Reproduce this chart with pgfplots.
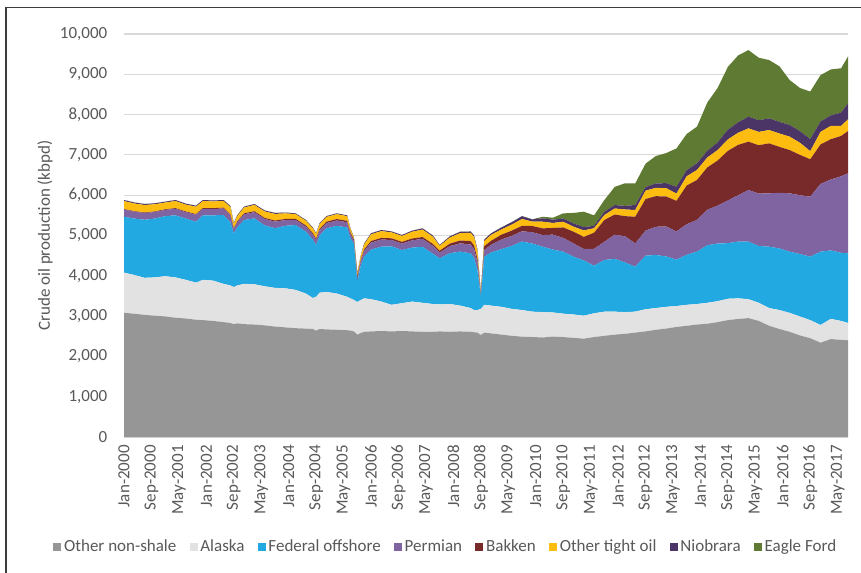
\documentclass[border=0pt]{standalone}
\usepackage{fontspec}
\setmainfont{Carlito}
\usepackage{pgfplots}
\pgfplotsset{compat=1.18}
\usepackage{pgfplotstable}
\definecolor{cGray}{HTML}{969696}
\definecolor{cAlaska}{HTML}{E2E2E2}
\definecolor{cFed}{HTML}{22A9E1}
\definecolor{cPerm}{HTML}{8064A2}
\definecolor{cBak}{HTML}{78292A}
\definecolor{cOther}{HTML}{FDBD10}
\definecolor{cNio}{HTML}{4B3566}
\definecolor{cEagle}{HTML}{5E7A33}
\definecolor{txt}{HTML}{595959}
\definecolor{cGrid}{HTML}{D9D9D9}
\definecolor{cFrame}{HTML}{3C3C3C}

\pgfplotstableread{
m G A F P B O N E
0 3080 1000 1386 178 10 199 27 0
3 3060 960 1400 172 11 191 26 0
6 3030 920 1440 168 12 186 25 0
9 3010 950 1460 163 14 178 25 0
12 2990 1000 1490 155 15 167 23 0
15 2960 1000 1540 163 16 176 25 0
18 2940 960 1520 159 17 170 24 0
21 2910 920 1512 171 18 183 26 0
23 2900 1000 1600 163 19 173 25 0
26 2880 1000 1620 159 20 167 24 0
29 2850 950 1708 160 22 166 24 0
31 2830 930 1570 172 22 181 26 0
32 2800 920 1334 106 20 105 16 0
33 2820 940 1440 129 23 128 20 0
35 2800 1000 1584 142 24 143 22 0
38 2790 1000 1635 153 25 155 23 0
41 2770 970 1510 159 26 161 24 0
44 2740 960 1480 163 28 164 25 0
47 2720 970 1550 142 29 138 21 0
50 2700 950 1610 125 30 116 19 0
53 2690 870 1534 125 31 115 19 0
55 2680 770 1450 129 32 119 20 0
56 2640 840 1283 125 32 115 19 0
57 2680 900 1420 129 33 118 20 0
59 2670 930 1577 130 34 119 20 0
62 2660 900 1680 133 35 121 20 0
65 2650 830 1720 129 36 115 20 0
66 2640 800 1490 106 36 89 16 0
67 2620 780 1400 65 37 38 10 0
68 2540 810 503 89 37 68 14 0
69 2580 820 850 108 38 88 16 0
70 2610 830 1040 138 38 123 21 0
72 2620 800 1230 174 39 165 26 0
75 2630 730 1362 178 40 169 27 0
78 2620 660 1450 159 41 146 24 0
81 2630 690 1320 160 42 146 24 0
84 2620 740 1340 181 44 168 27 0
87 2610 720 1390 197 45 185 30 0
90 2610 690 1250 194 46 181 29 0
92 2620 670 1143 142 47 120 21 0
95 2610 690 1260 180 60 150 30 0
98 2620 640 1340 205 70 184 35 0
101 2610 590 1357 220 85 203 35 0
102 2600 550 1300 220 85 210 35 0
103 2590 560 993 200 80 197 30 0
104 2530 650 300 35 15 27 8 0
105 2590 690 1194 170 90 130 36 0
107 2570 690 1320 190 100 145 39 0
110 2540 690 1430 240 120 130 50 0
113 2510 670 1560 250 130 150 60 0
116 2490 660 1700 255 135 170 70 0
119 2480 630 1690 280 155 110 55 0
122 2470 630 1622 289 166 165 83 41
125 2490 600 1560 371 166 124 83 46
128 2480 580 1540 340 260 140 80 129
131 2460 580 1434 331 289 124 83 259
134 2440 570 1370 285 300 160 85 380
137 2480 590 1180 420 400 110 60 260
140 2510 600 1282 454 538 124 82 290
143 2540 570 1310 600 500 150 85 450
146 2560 540 1230 650 500 166 90 560
149 2590 520 1116 579 661 166 124 537
152 2620 550 1330 620 786 206 90 580
155 2660 540 1316 700 760 206 110 680
158 2690 540 1250 744 744 207 124 746
161 2730 520 1150 700 760 180 170 950
164 2760 520 1240 760 960 230 150 900
167 2790 510 1300 786 992 248 166 910
170 2810 520 1430 880 1050 245 165 1200
173 2850 520 1430 940 1120 260 190 1350
176 2900 530 1380 1060 1230 285 240 1560
179 2930 510 1410 1150 1250 300 260 1660
182 2950 470 1426 1282 1199 331 290 1653
185 2880 450 1410 1300 1200 330 290 1550
188 2760 440 1522 1324 1240 331 290 1446
191 2680 470 1530 1380 1140 330 290 1380
194 2610 470 1518 1448 1074 332 289 1116
197 2520 470 1550 1460 1000 300 290 1070
200 2450 450 1574 1488 930 200 300 1180
203 2340 440 1820 1680 980 310 260 1150
206 2430 500 1700 1760 1000 330 260 1140
209 2410 470 1690 1900 1000 250 330 1100
211 2400 430 1727 1985 1050 290 400 1160
}\data

\begin{document}
\begin{tikzpicture}
\fill[white] (0pt,0pt) rectangle (645.75pt,429pt);
\useasboundingbox (0pt,0pt) rectangle (645.75pt,429pt);
\draw[cFrame, line width=1pt] (4.5pt,-5pt) -- (4.5pt,423.5pt) -- (650pt,423.5pt);
\begin{axis}[
  at={(93pt,101.25pt)}, anchor=south west,
  scale only axis, width=543pt, height=302.25pt,
  xmin=0, xmax=211, ymin=0, ymax=10000,
  stack plots=y,
  axis line style={draw=none},
  tick style={draw=none},
  ymajorgrids, xmajorgrids=false,
  grid style={draw=cGrid, line width=0.9pt},
  ytick={0,1000,...,10000},
  scaled y ticks=false,
  yticklabel={\pgfmathprintnumber[fixed,precision=0,1000 sep={,},assume math mode=true]{\tick}},
  xtick={0,8,...,208},
  xticklabels={Jan-2000,Sep-2000,May-2001,Jan-2002,Sep-2002,May-2003,Jan-2004,Sep-2004,May-2005,Jan-2006,Sep-2006,May-2007,Jan-2008,Sep-2008,May-2009,Jan-2010,Sep-2010,May-2011,Jan-2012,Sep-2012,May-2013,Jan-2014,Sep-2014,May-2015,Jan-2016,Sep-2016,May-2017},
  yticklabel style={font=\fontsize{12.75}{14}\selectfont, text=txt, xshift=-9pt},
  xticklabel style={font=\fontsize{12.75}{14}\selectfont, text=txt, rotate=90, anchor=east, inner sep=6pt},
  ylabel={Crude oil production (kbpd)},
  ylabel style={font=\fontsize{12.75}{14}\selectfont, text=txt, at={(axis description cs:-0.109,0.5)}, anchor=center},
  legend columns=-1,
  legend style={at={(axis description cs:0.445,-0.273)}, anchor=center, draw=none, fill=none,
    font=\fontsize{12.75}{14}\selectfont, text=txt,
    /tikz/every even column/.append style={column sep=8pt}},
  legend image code/.code={\fill[#1] (0pt,-3pt) rectangle (6pt,3pt);},
]
\addplot[fill=cGray, draw=none] table[x=m, y=G] {\data} \closedcycle;
\addlegendentry{Other non-shale}
\addplot[fill=cAlaska, draw=none] table[x=m, y=A] {\data} \closedcycle;
\addlegendentry{Alaska}
\addplot[fill=cFed, draw=none] table[x=m, y=F] {\data} \closedcycle;
\addlegendentry{Federal offshore}
\addplot[fill=cPerm, draw=none] table[x=m, y=P] {\data} \closedcycle;
\addlegendentry{Permian}
\addplot[fill=cBak, draw=none] table[x=m, y=B] {\data} \closedcycle;
\addlegendentry{Bakken}
\addplot[fill=cOther, draw=none] table[x=m, y=O] {\data} \closedcycle;
\addlegendentry{Other tight oil}
\addplot[fill=cNio, draw=none] table[x=m, y=N] {\data} \closedcycle;
\addlegendentry{Niobrara}
\addplot[fill=cEagle, draw=none] table[x=m, y=E] {\data} \closedcycle;
\addlegendentry{Eagle Ford}
\end{axis}
\end{tikzpicture}
\end{document}
